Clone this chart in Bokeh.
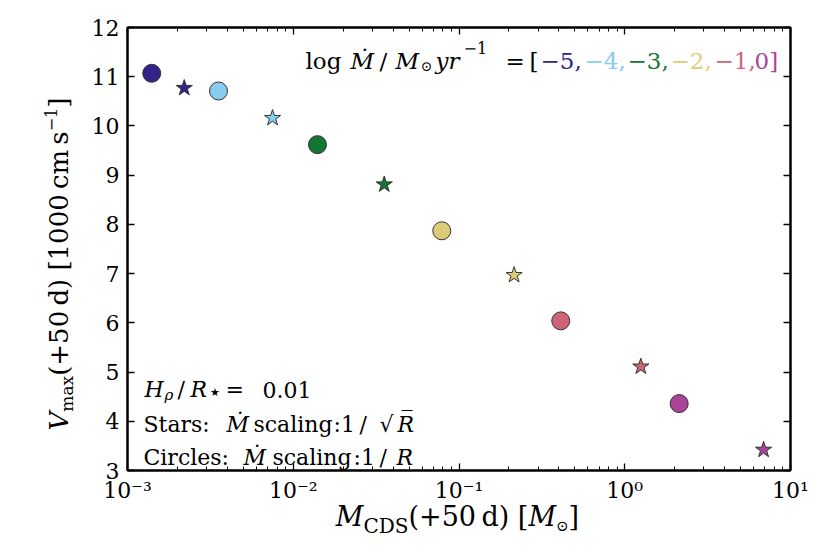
import math
from bokeh.plotting import figure
from bokeh.models import (LogAxis, LinearAxis, FixedTicker, CustomJSTickFormatter,
                          Label, Range1d, Div)
from bokeh.layouts import row, column
from bokeh.embed import file_html
from bokeh.resources import INLINE

# ---------------- data ----------------
mdot_labels = ["\u22125,", "\u22124,", "\u22123,", "\u22122,", "\u22121,", "0]"]
colors = ["#332288", "#88CCEE", "#117733", "#DDCC77", "#CC6677", "#AA4499"]
circle_mcds = [1.40e-3, 3.54e-3, 1.40e-2, 7.87e-2, 0.411, 2.13]
circle_vmax = [11.07, 10.71, 9.62, 7.87, 6.04, 4.36]
star_mcds = [2.20e-3, 7.5e-3, 3.54e-2, 0.215, 1.25, 6.88]
star_vmax = [10.77, 10.16, 8.81, 6.97, 5.11, 3.42]
x_ticks = [1e-3, 1e-2, 1e-1, 1.0, 10.0]
x_tick_labels = ["10\u207b\u00b3", "10\u207b\u00b2", "10\u207b\u00b9", "10\u2070", "10\u00b9"]
y_ticks = [3, 4, 5, 6, 7, 8, 9, 10, 11, 12]

FONT = "DejaVu Serif"
YDIV_W = 72
FIG_W, FIG_H = 750, 506
TOTAL_H = 554

p = figure(width=FIG_W, height=FIG_H, x_axis_type="log",
           x_range=Range1d(1e-3, 10), y_range=Range1d(3, 12),
           output_backend="svg", toolbar_location=None,
           min_border_left=45, min_border_right=42,
           min_border_top=27, min_border_bottom=36)
p.grid.visible = False
p.outline_line_color = "black"
p.outline_line_width = 2
p.background_fill_color = "white"
p.border_fill_color = "white"

x_minor = [m * d for d in x_ticks[:-1] for m in range(2, 10)]
xticker = FixedTicker(ticks=x_ticks, minor_ticks=x_minor)
yticker = FixedTicker(ticks=y_ticks, minor_ticks=[])

xfmt = CustomJSTickFormatter(args=dict(tvals=x_ticks, tlabels=x_tick_labels), code="""
let best = 0;
for (let i = 0; i < tvals.length; i++) {
  if (Math.abs(Math.log10(tvals[i]) - Math.log10(tick)) < 1e-6) { best = i; }
}
return tlabels[best];
""")
blank = CustomJSTickFormatter(code="return '';")


def style_axis(ax, show_labels=True):
    ax.axis_line_width = 2
    ax.axis_line_color = "black"
    ax.major_tick_in = 7
    ax.major_tick_out = 0
    ax.minor_tick_in = 4
    ax.minor_tick_out = 0
    ax.major_tick_line_width = 1.3
    ax.minor_tick_line_width = 1
    ax.major_tick_line_color = "black"
    ax.minor_tick_line_color = "black"
    ax.major_label_text_font = FONT
    ax.major_label_text_font_size = "22px"
    ax.major_label_text_color = "black"
    if not show_labels:
        ax.major_label_standoff = 0
        ax.major_label_text_font_size = "1px"


xb = p.xaxis[0]
xb.ticker = xticker
xb.formatter = xfmt
style_axis(xb)
xb.major_label_standoff = 7

yl = p.yaxis[0]
yl.ticker = yticker
style_axis(yl)
yl.major_label_standoff = 8

xt = LogAxis(ticker=xticker, formatter=blank)
style_axis(xt, False)
p.add_layout(xt, "above")
yr = LinearAxis(ticker=yticker, formatter=blank)
style_axis(yr, False)
p.add_layout(yr, "right")

# ---------------- markers ----------------
p.scatter(x=circle_mcds, y=circle_vmax, marker="circle", size=18,
          fill_color=colors, line_color="#333333", line_width=1)
p.scatter(x=star_mcds, y=star_vmax, marker="star", size=17,
          fill_color=colors, line_color="#333333", line_width=1)


# ---------------- texts inside the frame ----------------
def txt(s, x, y, size, italic=False, color="black"):
    p.add_layout(Label(x=x, y=y, x_units="screen", y_units="screen", text=s,
                       text_font=FONT, text_font_size=f"{size}px",
                       text_font_style="italic" if italic else "normal",
                       text_color=color, text_baseline="alphabetic",
                       text_align="left"))


# top-right annotation
txt("log", 178, 410, 23)
txt("\u1e40", 223, 410, 23, italic=True)
txt("/", 252, 410, 23)
txt("M", 268, 410, 23, italic=True)
txt("\u2299", 293, 405, 14)
txt("yr", 308, 410, 23, italic=True)
txt("\u22121", 336, 423, 16)
txt("=", 378, 410, 23)
txt("[", 402, 410, 23)
for lab, col, x0 in zip(mdot_labels, colors, [413, 457, 500, 543, 587, 627]):
    txt(lab, x0, 410, 23, color=col)

# bottom-left annotation
txt("H", 17, 81, 22, italic=True)
txt("\u03c1", 37, 76, 15, italic=True)
txt("/", 50, 81, 22)
txt("R", 63, 81, 22, italic=True)
txt("\u2605", 82, 78, 11)
txt("=", 98, 81, 22)
txt("0.01", 135, 81, 22)

txt("Stars:", 16, 46.5, 22)
txt("\u1e40", 99, 46.5, 22, italic=True)
txt("scaling", 126, 46.5, 22)
txt(":1", 206, 46.5, 22)
txt("/", 232, 46.5, 22)
txt("\u221a", 252, 46.5, 22)
txt("R\u0305", 270, 46.5, 22, italic=True)

txt("Circles:", 16, 13, 22)
txt("\u1e40", 116, 13, 22, italic=True)
txt("scaling", 145, 13, 22)
txt(":1", 226, 13, 22)
txt("/", 252, 13, 22)
txt("R", 269, 13, 22, italic=True)

# ---------------- axis labels (HTML text) ----------------
xlabel_html = (
    f'<div style="position:relative;width:{FIG_W}px;height:{TOTAL_H - FIG_H}px;">'
    f'<div style="position:absolute;left:-6px;top:0;width:753px;text-align:center;'
    f'white-space:nowrap;font-family:\'{FONT}\';font-size:27px;line-height:11px;color:black;">'
    '<i>M</i><span style="font-size:20px;vertical-align:-7px;line-height:0;">CDS</span>'
    '(+50&#8201;d) [<i>M</i><span style="font-size:15px;vertical-align:-5px;line-height:0;">&#8857;</span>]'
    '</div></div>'
)
ylabel_html = (
    f'<div style="position:relative;width:{YDIV_W}px;height:{TOTAL_H}px;">'
    f'<div style="position:absolute;left:54px;top:259px;transform:translate(-50%,-50%) rotate(-90deg);'
    f'white-space:nowrap;font-family:\'{FONT}\';font-size:26px;line-height:26px;color:black;">'
    '<i>V</i><span style="font-size:17px;vertical-align:-5px;line-height:0;">max</span>'
    '(+50&#8201;d) [1000&#8201;cm&#8201;s<span style="font-size:16px;vertical-align:11px;line-height:0;">&#8722;1</span>]'
    '</div></div>'
)
xdiv = Div(text=xlabel_html, width=FIG_W, height=TOTAL_H - FIG_H)
ydiv = Div(text=ylabel_html, width=YDIV_W, height=TOTAL_H)

layout = row(ydiv, column(p, xdiv))

open("out.html", "w").write(file_html(layout, INLINE))
